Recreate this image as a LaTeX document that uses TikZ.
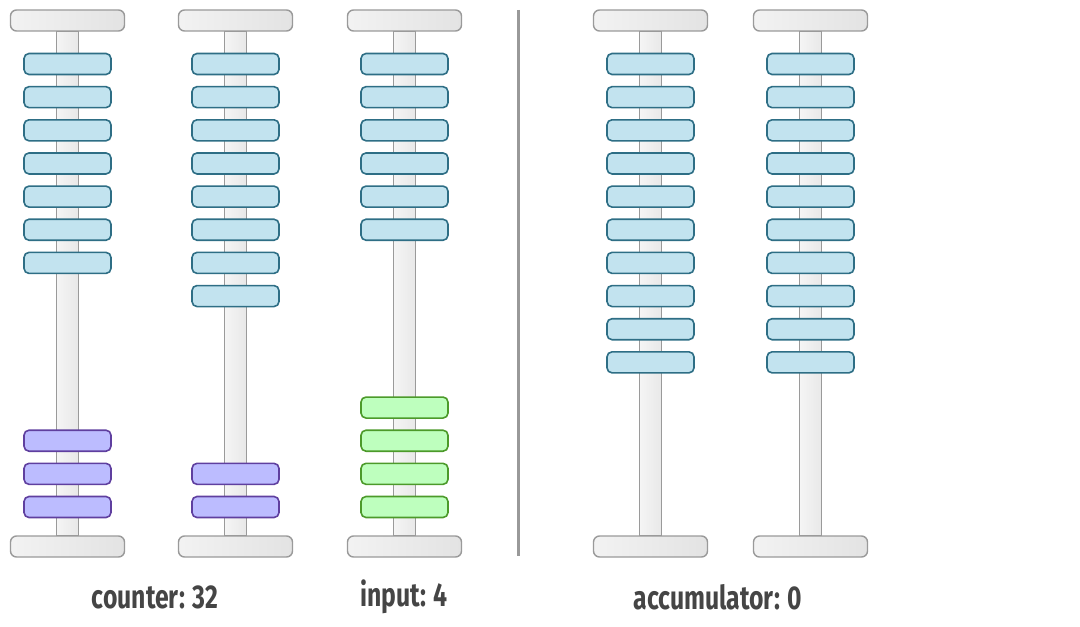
\documentclass[tikz,border=0pt]{standalone}
\usepackage{fontspec}
\newfontfamily\labelfont[FakeStretch=0.75]{Fira Sans}
\usepackage{xcolor}
\usepackage{tikz}
\usetikzlibrary{positioning}
\definecolor{beadfill}{HTML}{C2E3EF}
\definecolor{beadline}{HTML}{2E6E85}
\definecolor{purplefill}{HTML}{BCBCFF}
\definecolor{purpleline}{HTML}{5F3F9F}
\definecolor{greenfill}{HTML}{BEFFBE}
\definecolor{greenline}{HTML}{4C9A2A}
\definecolor{capline}{HTML}{9A9A9A}
\definecolor{labelgray}{HTML}{454545}
\tikzstyle{bead} = [rectangle, rounded corners=2.5pt, minimum width=43.5pt, minimum height=10.5pt, line width=0.8pt, inner sep=0pt]
\tikzstyle{blue bead} = [bead, fill=beadfill, draw=beadline]
\tikzstyle{purple bead} = [bead, fill=purplefill, draw=purpleline]
\tikzstyle{green bead} = [bead, fill=greenfill, draw=greenline]
\tikzstyle{endcap} = [rectangle, rounded corners=3pt, minimum width=57pt, minimum height=10.5pt, inner sep=0pt, draw=capline, line width=0.7pt, left color=gray!10, middle color=white, right color=gray!22]
\tikzstyle{rod} = [rectangle, minimum width=11pt, minimum height=252.5pt, inner sep=0pt, draw=capline, line width=0.7pt, left color=gray!8, middle color=white, right color=gray!18]
\tikzstyle{caption} = [font=\labelfont\bfseries\fontsize{16.5}{18}\selectfont, text=labelgray]

\begin{document}
\begin{tikzpicture}[x=0.5pt, y=-0.5pt]
    \useasboundingbox (0,0) rectangle (1080,626);

    % Rods with top and bottom caps
    \foreach \n/\x in {1/67.5, 2/235.5, 3/404.5, 4/650.5, 5/810.5} {
        \node[rod] (rod\n) at (\x, 283.5) {};
        \node[endcap] (top\n) at (\x, 20.5) {};
        \node[endcap] (base\n) at (\x, 546.5) {};
    }

    % Upper beads
    \foreach \n/\x/\k in {1/67.5/7, 2/235.5/8, 3/404.5/6, 4/650.5/10, 5/810.5/10} {
        \foreach \i in {1,...,\k} {
            \node[blue bead] (up\n-\i) at (\x, {64+33.15*(\i-1)}) {};
        }
    }

    % Lower beads
    \foreach \i in {1,2,3} {
        \node[purple bead] (low1-\i) at (67.5, {507-33.15*(\i-1)}) {};
    }
    \foreach \i in {1,2} {
        \node[purple bead] (low2-\i) at (235.5, {507-33.15*(\i-1)}) {};
    }
    \foreach \i in {1,...,4} {
        \node[green bead] (low3-\i) at (404.5, {507-33.15*(\i-1)}) {};
    }

    % Separator
    \coordinate (sepTop) at (518, 10);
    \coordinate (sepBot) at (518, 556);
    \draw[gray!80, line width=1.5pt] (sepTop) -- (sepBot);

    % Labels
    \node[caption] (counter) at (155, 597) {counter: 32};
    \node[caption] (input) at (404, 597) {input: 4};
    \node[caption] (accumulator) at (718, 597) {accumulator: 0};
\end{tikzpicture}
\end{document}
